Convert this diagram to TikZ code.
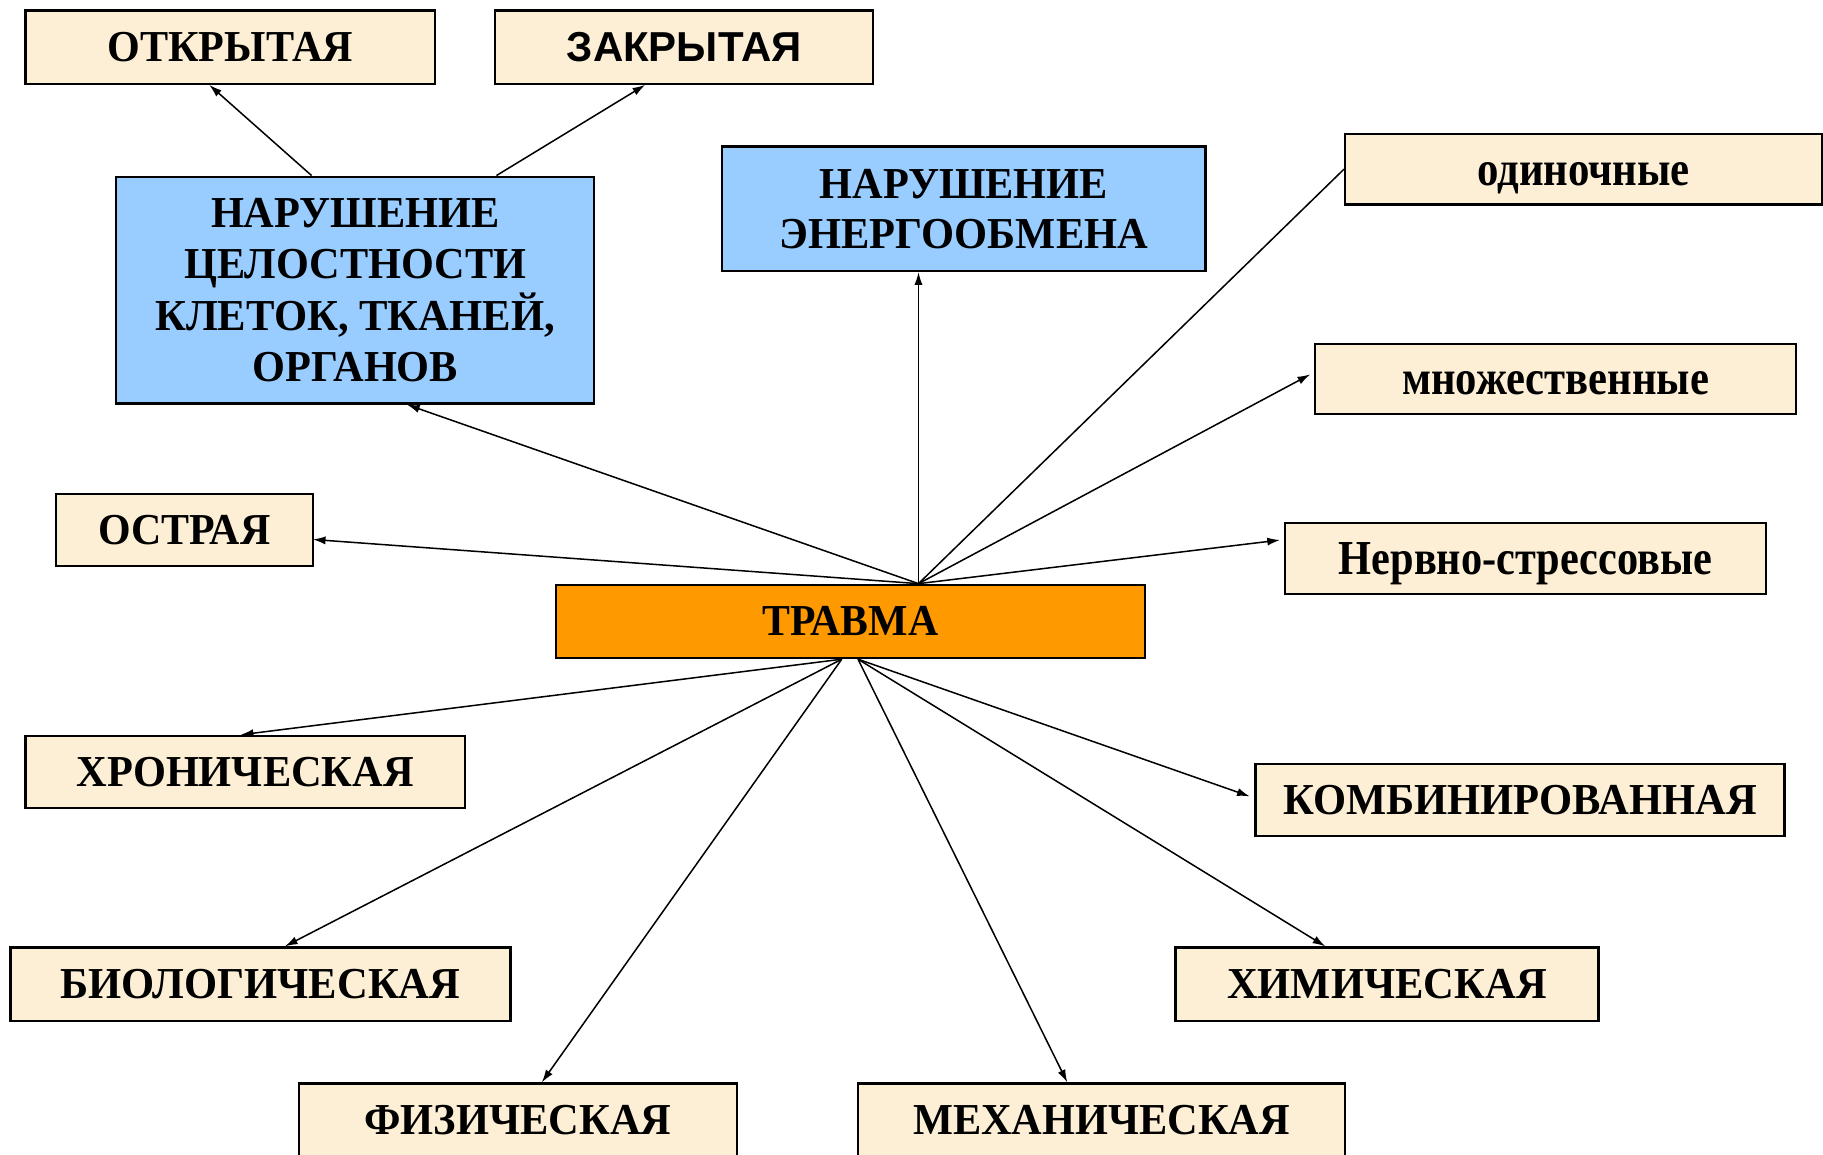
\documentclass[tikz,border=0pt]{standalone}
\usepackage{fontspec}
\setmainfont{Liberation Serif}
\newfontfamily\sansb{Liberation Sans}
\usetikzlibrary{arrows.meta,calc}
\definecolor{cream}{HTML}{FCEFD5}
\definecolor{lblue}{HTML}{99CCFF}
\definecolor{orng}{HTML}{FF9900}
\newcommand{\fw}[2]{\resizebox{#1pt}{\height}{#2}}
\newcommand{\lowr}[2]{\raisebox{-#1pt}[\height][\depth]{#2}}
\begin{document}
\begin{tikzpicture}[x=1pt,y=-1pt,
  box/.style={draw=black,line width=2pt,fill=cream,rectangle,inner sep=0pt,
    font=\bfseries\fontsize{38}{44}\selectfont,align=center},
  lbox/.style={box,font=\bfseries\fontsize{42}{44}\selectfont},
  bbox/.style={box,fill=lblue},
  obox/.style={box,fill=orng},
  conn/.style={line width=1.3pt,-{Latex[length=11pt,width=7pt]}},
  plainconn/.style={line width=1.3pt}]
\useasboundingbox (0,0) rectangle (1568,993);
\clip (0,0) rectangle (1568,993);
\fill[white] (0,0) rectangle (1568,993);

% top row
\node[box,minimum width=352pt,minimum height=63pt] (otkr) at (198,40.5) {\fw{211}{ОТКРЫТАЯ}};
\node[box,minimum width=325pt,minimum height=63pt,font=\sansb\bfseries\fontsize{36}{44}\selectfont] (zakr) at (588.5,40.5) {\fw{202}{ЗАКРЫТАЯ}};

% blue boxes
\node[bbox,minimum width=411pt,minimum height=195pt] (cel) at (305.5,249.5)
  {\fw{248}{НАРУШЕНИЕ}\\\fw{294}{ЦЕЛОСТНОСТИ}\\\fw{344}{КЛЕТОК, ТКАНЕЙ,}\\\fw{177}{ОРГАНОВ}};
\node[bbox,minimum width=416pt,minimum height=107pt,font=\bfseries\fontsize{38}{43}\selectfont] (energ) at (829,179.5)
  {\fw{248}{НАРУШЕНИЕ}\\\fw{317}{ЭНЕРГООБМЕНА}};

% right column
\node[lbox,minimum width=410pt,minimum height=61pt] (odin) at (1362,145.5) {\lowr{8}{\fw{183}{одиночные}}};
\node[lbox,minimum width=414pt,minimum height=60pt] (mnozh) at (1338,326) {\lowr{4}{\fw{264}{множественные}}};
\node[lbox,minimum width=414pt,minimum height=61pt] (nerv) at (1312,480.5) {\lowr{4}{\fw{321}{Нервно-стрессовые}}};

% middle
\node[box,minimum width=221pt,minimum height=62pt] (ostr) at (158.5,456) {\fw{148}{ОСТРАЯ}};
\node[obox,minimum width=507pt,minimum height=63pt] (trav) at (731.5,534.5) {\fw{151}{ТРАВМА}};
\node[box,minimum width=378pt,minimum height=62pt] (hron) at (211,664) {\fw{290}{ХРОНИЧЕСКАЯ}};
\node[box,minimum width=455pt,minimum height=62pt] (komb) at (1307.5,688) {\fw{407}{КОМБИНИРОВАННАЯ}};

% bottom
\node[box,minimum width=430pt,minimum height=63pt] (biol) at (224,846.5) {\fw{344}{БИОЛОГИЧЕСКАЯ}};
\node[box,minimum width=364pt,minimum height=63pt] (him) at (1193,846.5) {\fw{275}{ХИМИЧЕСКАЯ}};
\node[box,minimum width=377pt,minimum height=63pt] (fiz) at (445.5,963.5) {\fw{264}{ФИЗИЧЕСКАЯ}};
\node[box,minimum width=419pt,minimum height=63pt] (meh) at (947.5,963.5) {\fw{324}{МЕХАНИЧЕСКАЯ}};

% connector points on ТРАВМА
\coordinate (tT) at ([xshift=58.5pt]trav.north);
\coordinate (tBL) at ([xshift=-7.5pt]trav.south);
\coordinate (tBR) at ([xshift=6.5pt]trav.south);

% connectors
\draw[conn] ([xshift=-37.5pt]cel.north) -- ([xshift=-18pt]otkr.south);
\draw[conn] ([xshift=121.5pt]cel.north) -- ([xshift=-33.5pt]zakr.south);
\draw[conn] (tT) -- ([xshift=44.5pt]cel.south);
\draw[conn] (tT) -- ([xshift=-39pt]energ.south);
\draw[plainconn] (tT) -- (odin.west);
\draw[conn] (tT) -- ([yshift=4pt,xshift=-3pt]mnozh.west);
\draw[conn] (tT) -- ([yshift=16pt,xshift=-3pt]nerv.west);
\draw[conn] (tT) -- ([yshift=-8pt,xshift=-1pt]ostr.east);
\draw[conn] (tBL) -- ([xshift=-4pt]hron.north);
\draw[conn] (tBL) -- ([xshift=21pt]biol.north);
\draw[conn] (tBL) -- ([xshift=20.5pt]fiz.north);
\draw[conn] (tBR) -- ([xshift=-29.5pt]meh.north);
\draw[conn] (tBR) -- ([xshift=-53pt]him.north);
\draw[conn] (tBR) -- ([yshift=3pt,xshift=-4pt]komb.west);
\end{tikzpicture}
\end{document}
